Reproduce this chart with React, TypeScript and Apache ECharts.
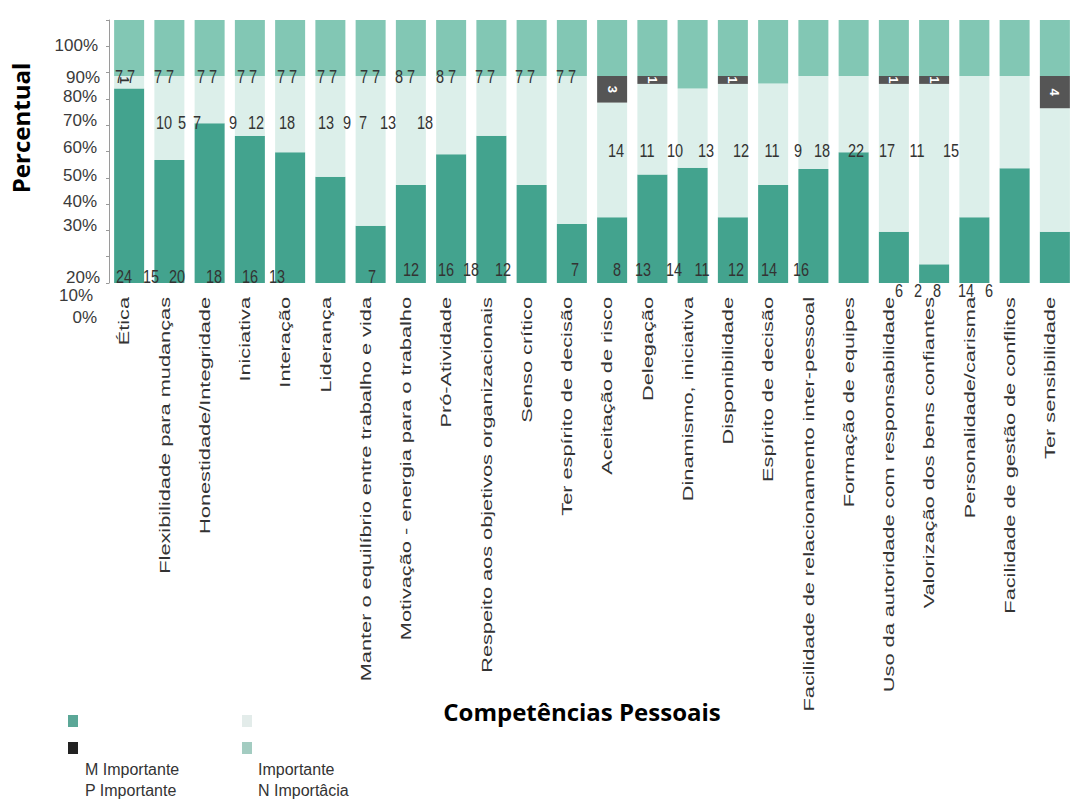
import React, { useEffect, useRef } from 'react';
import * as echarts from 'echarts';

// ---------- data ----------
const categories = [
  'Ética',
  'Flexibilidade para mudanças',
  'Honestidade/Integridade',
  'Iniciativa',
  'Interação',
  'Liderança',
  'Manter o equilíbrio entre trabalho e vida',
  'Motivação - energia para o trabalho',
  'Pró-Atividade',
  'Respeito aos objetivos organizacionais',
  'Senso crítico',
  'Ter espírito de decisão',
  'Aceitação de risco',
  'Delegação',
  'Dinamismo, iniciativa',
  'Disponibilidade',
  'Espírito de decisão',
  'Facilidade de relacionamento inter-pessoal',
  'Formação de equipes',
  'Uso da autoridade com responsabilidade',
  'Valorização dos bens confiantes',
  'Personalidade/carisma',
  'Facilidade de gestão de conflitos',
  'Ter sensibilidade',
];

// percentages
const mImportante = [74.0, 46.8, 60.7, 55.9, 49.7, 40.4, 21.8, 37.3, 49.0, 56.0, 37.3, 22.4, 25.0, 41.3, 43.8, 25.0, 37.3, 43.3, 49.7, 19.5, 7.1, 25.0, 43.6, 19.5];
const importante = [4.7, 31.9, 18.0, 22.8, 29.0, 38.3, 56.9, 41.4, 29.7, 22.7, 41.4, 56.3, 43.6, 34.4, 30.2, 50.7, 38.6, 35.4, 29.0, 56.2, 68.6, 53.7, 35.1, 46.9];
const pImportante = [0, 0, 0, 0, 0, 0, 0, 0, 0, 0, 0, 0, 10.1, 3.0, 0, 3.0, 0, 0, 0, 3.0, 3.0, 0, 0, 12.3];
const nImportancia = [21.3, 21.3, 21.3, 21.3, 21.3, 21.3, 21.3, 21.3, 21.3, 21.3, 21.3, 21.3, 21.3, 21.3, 26.0, 21.3, 24.1, 21.3, 21.3, 21.3, 21.3, 21.3, 21.3, 21.3];
const pCounts = ['', '', '', '', '', '', '', '', '', '', '', '', '3', '1', '', '1', '', '', '', '1', '1', '', '', '4'];

const seriesNames = ['M Importante', 'Importante', 'P Importante', 'N Importâcia'];

const yTickLabels = ['100%', '90%', '80%', '70%', '60%', '50%', '40%', '30%', '20%', '10%', '0%'];

// loose count labels printed over the chart
const countsTop = ['7 7', '7 7', '7 7', '7 7', '7 7', '7 7', '7 7', '8 7', '8 7', '7 7', '7 7', '7 7'];
const countsMid1 = ['10', '5', '7', '9', '12', '18', '13', '9', '7', '13', '18'];
const countsMid2 = ['14', '11', '10', '13', '12', '11', '9', '18', '22', '17', '11', '15'];
const countsLow1 = ['24', '15', '20', '18', '16', '13', '7'];
const countsLow2 = ['12', '16', '18', '12', '7', '8', '13', '14', '11', '12', '14', '16'];
const countsLow3 = ['6', '2', '8', '14', '6'];

// ---------- layout (pixel placement of the loose texts) ----------
const yTickLayout = {
  y: [45, 77, 96, 120, 147, 175, 201, 225, 277, 295, 317],
  right: [98, 100, 97, 97, 97, 97, 97, 97, 100, 93, 97],
};
const countsLayout = [
  { texts: countsTop, y: 77, x: [125, 164, 207, 247, 287, 327, 370, 405, 446, 485, 525, 566] },
  { texts: countsMid1, y: 123, x: [164, 182, 197, 233, 256, 287, 326, 347, 363, 388, 425] },
  { texts: countsMid2, y: 151, x: [616, 647, 675, 706, 741, 772, 798, 822, 856, 887, 917, 951] },
  { texts: countsLow1, y: 277, x: [124, 151, 177, 214, 250, 277, 372] },
  { texts: countsLow2, y: 270, x: [411, 446, 471, 503, 575, 617, 643, 674, 702, 736, 769, 801] },
  { texts: countsLow3, y: 291, x: [899, 918, 937, 966, 989] },
];

const COLORS = {
  m: '#43a38e',
  i: '#dcefea',
  p: '#555555',
  n: '#82c7b4',
};

const legendTextStyle = { fontSize: 16, lineHeight: 20, color: '#333', fontFamily: 'Liberation Sans' };

const textLegend = (name: string, left: number, top: number) => ({
  left, top, orient: 'vertical', icon: 'rect',
  itemWidth: 0, itemHeight: 0, selectedMode: false,
  textStyle: legendTextStyle,
  data: [{ name, itemStyle: { opacity: 0 } }],
});

export default function App() {
  const ref = useRef<HTMLDivElement>(null);

  useEffect(() => {
    if (!ref.current) return;
    const chart = echarts.init(ref.current, null, { renderer: 'svg' });

    const barBase = {
      type: 'bar',
      stack: 'total',
      barWidth: 30,
      emphasis: { disabled: true },
    };

    const option: any = {
      animation: false,
      backgroundColor: '#ffffff',
      grid: { left: 109, right: -8, top: 20, bottom: 518 },
      xAxis: {
        type: 'category',
        data: categories,
        axisLine: { show: false },
        axisTick: { show: false },
        axisLabel: { show: false },
      },
      yAxis: {
        type: 'value',
        min: 0,
        max: 100,
        interval: 10,
        axisLabel: { show: false },
        splitLine: { show: false },
        axisLine: { show: true, lineStyle: { color: '#9a9a9a', width: 1 } },
        axisTick: { show: true, length: 3, lineStyle: { color: '#9a9a9a' } },
      },
      legend: [
        {
          left: 63, top: 710, orient: 'vertical', icon: 'rect',
          itemWidth: 10, itemHeight: 12, itemGap: 15, selectedMode: false,
          formatter: () => '', textStyle: { fontSize: 12, lineHeight: 12 },
          data: [
            { name: 'M Importante', itemStyle: { color: '#5ba797' } },
            { name: 'P Importante', itemStyle: { color: '#222222' } },
          ],
        },
        {
          left: 237, top: 710, orient: 'vertical', icon: 'rect',
          itemWidth: 10, itemHeight: 12, itemGap: 15, selectedMode: false,
          formatter: () => '', textStyle: { fontSize: 12, lineHeight: 12 },
          data: [
            { name: 'Importante', itemStyle: { color: '#e3ecea' } },
            { name: 'N Importâcia', itemStyle: { color: '#a3ccc1' } },
          ],
        },
        textLegend('M Importante', 75, 754),
        textLegend('P Importante', 75, 775),
        textLegend('Importante', 248, 754),
        textLegend('N Importâcia', 248, 775),
      ],
      series: [
        { ...barBase, name: seriesNames[0], data: mImportante, itemStyle: { color: COLORS.m } },
        { ...barBase, name: seriesNames[1], data: importante, itemStyle: { color: COLORS.i } },
        {
          ...barBase, name: seriesNames[2], data: pImportante, itemStyle: { color: COLORS.p },
          label: {
            show: true, position: 'inside', rotate: -90, color: '#ffffff',
            fontSize: 13, fontWeight: 'bold', fontFamily: 'Liberation Sans',
            formatter: (p: any) => pCounts[p.dataIndex] || '',
          },
        },
        { ...barBase, name: seriesNames[3], data: nImportancia, itemStyle: { color: COLORS.n } },
      ],
    };

    chart.setOption(option);

    const xs = categories.map((_, i) => chart.convertToPixel({ xAxisIndex: 0 }, i) as number);

    const elements: any[] = [];

    // category labels, rotated and stretched like the original picture
    categories.forEach((c, i) => {
      elements.push({
        type: 'text',
        x: xs[i] - 5,
        y: 297,
        rotation: Math.PI / 2,
        scaleX: 1.45,
        scaleY: 1,
        z: 100,
        silent: true,
        style: {
          text: c, fill: '#333333', fontSize: 15, fontFamily: 'Liberation Sans',
          align: 'right', verticalAlign: 'middle',
        },
      });
    });

    // y tick labels
    yTickLabels.forEach((t, i) => {
      elements.push({
        type: 'text',
        x: yTickLayout.right[i],
        y: yTickLayout.y[i],
        z: 100,
        silent: true,
        style: {
          text: t, fill: '#3a3a3a', fontSize: 17, fontFamily: 'Liberation Sans',
          align: 'right', verticalAlign: 'middle',
        },
      });
    });

    // loose count labels
    countsLayout.forEach((row) => {
      row.texts.forEach((t, i) => {
        elements.push({
          type: 'text',
          x: row.x[i],
          y: row.y,
          scaleY: 1.3,
          z: 100,
          silent: true,
          style: {
            text: t, fill: '#333333', fontSize: 14.5, fontFamily: 'Liberation Sans',
            align: 'center', verticalAlign: 'middle',
          },
        });
      });
    });

    // small rotated "1" on Ética
    elements.push({
      type: 'text', x: 124, y: 80, rotation: -Math.PI / 2, z: 100, silent: true,
      style: { text: '1', fill: '#333333', fontSize: 13, fontWeight: 'bold', fontFamily: 'Liberation Sans', align: 'center', verticalAlign: 'middle' },
    });

    // axis titles
    elements.push({
      type: 'text', x: 20, y: 128, rotation: Math.PI / 2, z: 100, silent: true,
      style: { text: 'Percentual', fill: '#000000', fontSize: 24, fontWeight: 'bold', fontFamily: 'Open Sans', align: 'center', verticalAlign: 'middle' },
    });
    elements.push({
      type: 'text', x: 582, y: 711, z: 100, silent: true,
      style: { text: 'Competências Pessoais', fill: '#000000', fontSize: 24, fontWeight: 'bold', fontFamily: 'Open Sans', align: 'center', verticalAlign: 'middle' },
    });

    chart.setOption({ graphic: { elements } });

    return () => {
      chart.dispose();
    };
  }, []);

  return (
    <div
      ref={ref}
      style={{ position: 'fixed', left: 0, top: 0, width: 1075, height: 801, background: '#ffffff' }}
    />
  );
}
